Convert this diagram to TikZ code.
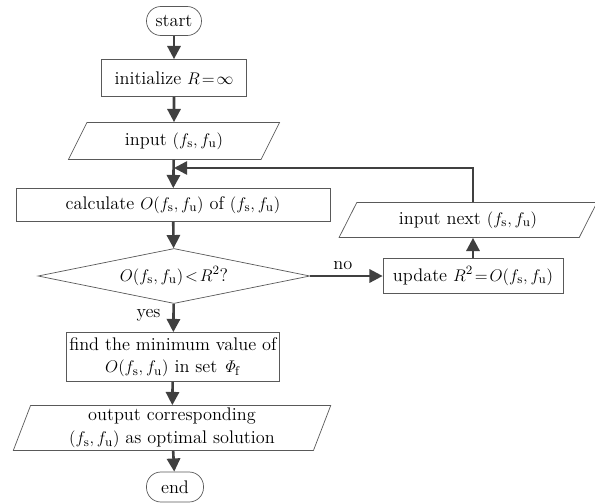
\documentclass[tikz,border=0pt]{standalone}
\usepackage{amsmath}
\usetikzlibrary{shapes.geometric,arrows.meta}

\newcommand{\fpair}{(f_{\mathrm{s}},f_{\mathrm{u}})}

\tikzset{
    base/.style={draw=black!65, line width=0.5pt, inner sep=2pt, align=center,
        font=\fontsize{13}{16}\selectfont},
    box/.style={base, rectangle},
    term/.style={base, rectangle, rounded corners=3.6mm},
    io/.style={base, trapezium, trapezium stretches=true},
    test/.style={base, diamond, aspect=4.9, inner sep=0pt},
    flow/.style={draw=black!75, line width=0.65mm, -{Triangle[length=3.3mm,width=3.3mm]}},
    tag/.style={font=\fontsize{13}{16}\selectfont},
}

\begin{document}
\begin{tikzpicture}[x=0.25mm, y=-0.25mm]
    \useasboundingbox (0,0) rectangle (595,502);

    \node[term, minimum width=13.75mm, minimum height=7.25mm] (start) at (174,21) {start};
    \node[box, minimum width=36.25mm, minimum height=9.25mm] (init) at (174,78) {initialize $R\!=\!\infty$};
    \node[io, trapezium left angle=64, trapezium right angle=116,
        minimum width=53.25mm, minimum height=9.25mm] (input) at (174,141) {input $\fpair$};
    \node[box, minimum width=78.5mm, minimum height=8.25mm] (calc) at (173,205) {calculate $O\fpair$ of $\fpair$};
    \node[test, minimum width=68mm, minimum height=13.75mm] (check) at (174,276) {$O\fpair\!<\!R^2$?};
    \node[box, minimum width=52.25mm, minimum height=12.25mm] (find) at (173,357)
        {find the minimum value of\\ $O\fpair$ in set $\mathit{\Phi}_{\mathrm{f}}$};
    \node[io, trapezium left angle=74, trapezium right angle=106,
        minimum width=79.5mm, minimum height=11.25mm] (output) at (172,428)
        {output corresponding\\ $\fpair$ as optimal solution};
    \node[term, minimum width=14.25mm, minimum height=7.5mm] (end) at (175,487) {end};

    \node[io, trapezium left angle=63, trapezium right angle=117,
        minimum width=64.5mm, minimum height=8.75mm] (next) at (468,220) {input next $\fpair$};
    \node[box, minimum width=45mm, minimum height=8.75mm] (update) at (473,276) {update $R^2\!=\!O\fpair$};

    \coordinate (join) at (174,168);

    \draw[flow] (start) -- (init);
    \draw[flow] (init) -- (input);
    \draw[flow] (input) -- (calc);
    \draw[flow] (calc) -- (check);
    \draw[flow] (check) -- node[tag, left=5pt, pos=0.4] {yes} (find);
    \draw[flow] (find) -- (output);
    \draw[flow] (output) -- (end);
    \draw[flow] (check.east) -- node[tag, above, pos=0.45] {no} (update.west);
    \draw[flow] (update.north) -- (update.north |- next.south);
    \draw[flow] (update.north |- next.north) |- (join);
\end{tikzpicture}
\end{document}
